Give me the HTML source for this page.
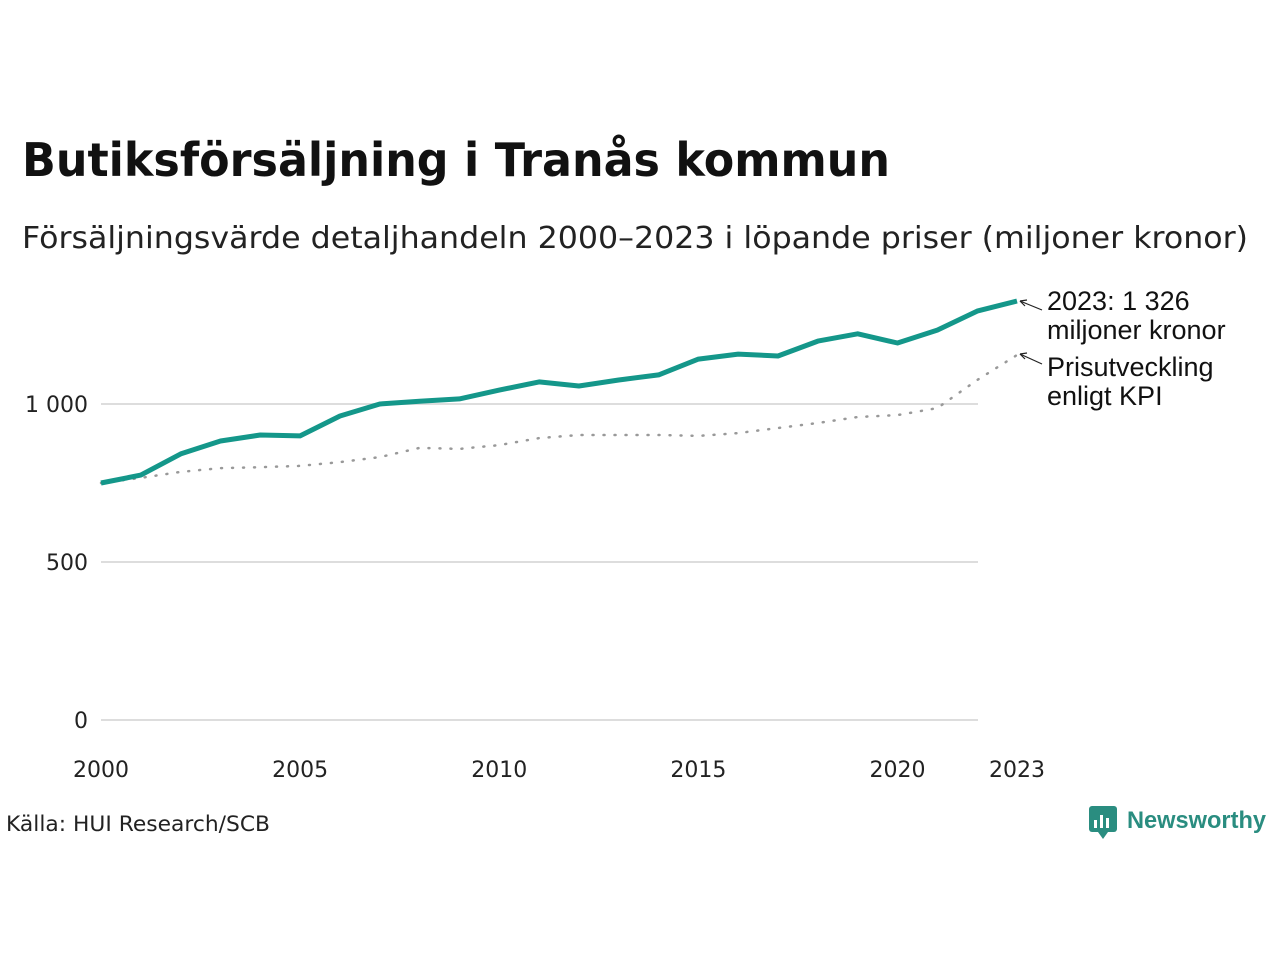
<!DOCTYPE html>
<html><head><meta charset="utf-8"><style>
body{margin:0;width:1280px;height:960px;background:#fff;font-family:"Liberation Sans","DejaVu Sans",sans-serif;overflow:hidden}
svg{display:block}
</style></head><body>
<svg width="1280" height="960">
<text x="22" y="176" font-size="46" font-weight="bold" fill="#111" font-family="'DejaVu Sans',sans-serif" textLength="868" lengthAdjust="spacingAndGlyphs">Butiksförsäljning i Tranås kommun</text>
<text x="22" y="248" font-size="30" fill="#222" font-family="'DejaVu Sans',sans-serif" textLength="1226" lengthAdjust="spacingAndGlyphs">Försäljningsvärde detaljhandeln 2000–2023 i löpande priser (miljoner kronor)</text>
<g id="grid"></g><g id="yt"></g><g id="xt"></g>
<path id="kpi" fill="none" stroke="#999" stroke-width="2.5" stroke-dasharray="1,10" stroke-linecap="round"/>
<path id="main" fill="none" stroke="#14978a" stroke-width="5" stroke-linejoin="round"/>
<line x1="1042" y1="310" x2="1020" y2="301" stroke="#222" stroke-width="1.2"/>
<path d="M1020 301 l7 -1 M1020 301 l5 5" stroke="#222" stroke-width="1.2" fill="none"/>
<text x="1047" y="310" font-size="27" fill="#111"><tspan x="1047">2023: 1 326</tspan><tspan x="1047" dy="29">miljoner kronor</tspan></text>
<line x1="1042" y1="364" x2="1020" y2="354" stroke="#222" stroke-width="1.2"/>
<path d="M1020 354 l7 -1 M1020 354 l5 5" stroke="#222" stroke-width="1.2" fill="none"/>
<text x="1047" y="376" font-size="27" fill="#111"><tspan x="1047">Prisutveckling</tspan><tspan x="1047" dy="29">enligt KPI</tspan></text>
<text x="6" y="831" font-size="21" fill="#222" font-family="'DejaVu Sans',sans-serif" textLength="264" lengthAdjust="spacingAndGlyphs">Källa: HUI Research/SCB</text>
<g>
<rect x="1089" y="806" width="28" height="26" rx="3" fill="#2a8d80"/>
<path d="M1098 832 l5 7 l5 -7z" fill="#2a8d80"/>
<rect x="1094" y="820" width="3" height="8" fill="#fff"/><rect x="1100" y="815" width="3" height="13" fill="#fff"/><rect x="1106" y="818" width="3" height="10" fill="#fff"/>
<text x="1127" y="828" font-size="24" font-weight="bold" fill="#2a8d80" textLength="139" lengthAdjust="spacingAndGlyphs">Newsworthy</text>
</g>
</svg>
<script>
const years=[2000,2001,2002,2003,2004,2005,2006,2007,2008,2009,2010,2011,2012,2013,2014,2015,2016,2017,2018,2019,2020,2021,2022,2023];
const sales=[750,775,842,883,902,899,962,1000,1009,1016,1044,1070,1057,1076,1092,1142,1158,1152,1199,1222,1193,1234,1294,1326];
const kpi=[750,766,785,797,800,804,816,832,861,858,870,892,902,902,902,899,908,924,940,959,965,987,1076,1155];
const yTicks=[0,500,1000];
const yTickLabels=["0","500","1 000"];
const xTicks=[2000,2005,2010,2015,2020,2023];
const NS="http://www.w3.org/2000/svg";
const X=v=>101+(v-2000)*(1017-101)/23;
const Y=v=>720-v*0.316;
function mk(t,a,p,txt){const e=document.createElementNS(NS,t);for(const k in a)e.setAttribute(k,a[k]);if(txt!==undefined)e.textContent=txt;p.appendChild(e);return e;}
const g=document.getElementById('grid'),yt=document.getElementById('yt'),xt=document.getElementById('xt');
yTicks.forEach((v,i)=>{
const l=mk('line',{x1:101,x2:978,y1:Y(v),y2:Y(v),stroke:'#ddd','stroke-width':2},g);


const t=mk('text',{x:88,y:Y(v)+8,'font-size':22,'text-anchor':'end',fill:'#222','font-family':"'DejaVu Sans',sans-serif"},yt,yTickLabels[i]);


});
xTicks.forEach(v=>{
const t=mk('text',{x:X(v),y:777,'font-size':22,'text-anchor':'middle',fill:'#222','font-family':"'DejaVu Sans',sans-serif"},xt,String(v));


});
const path=arr=>arr.map((v,i)=>(i?'L':'M')+X(years[i]).toFixed(1)+' '+Y(v).toFixed(1)).join(' ');
document.getElementById('main').setAttribute('d',path(sales));
document.getElementById('kpi').setAttribute('d',path(kpi));
</script>
</body></html>
